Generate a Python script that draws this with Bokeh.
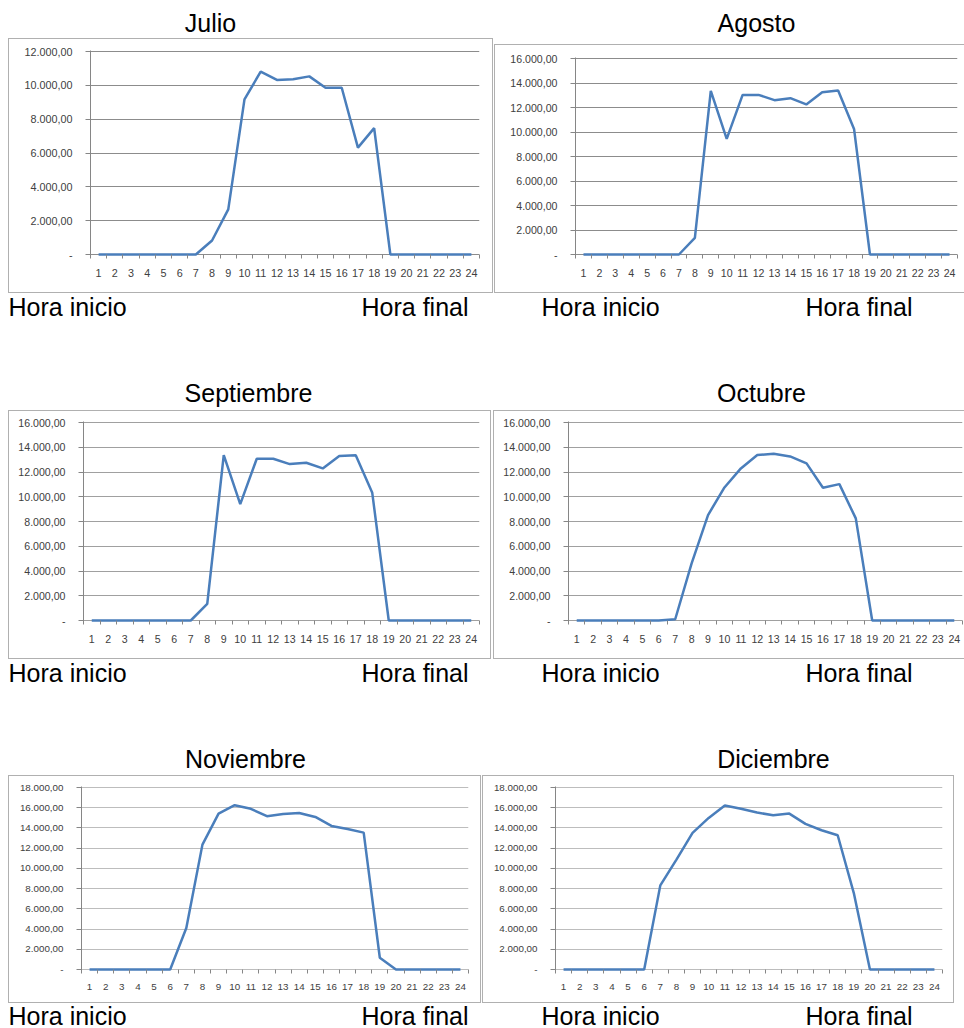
from bokeh.plotting import figure
from bokeh.models import Range1d, FixedTicker, Label, Spacer
from bokeh.layouts import row, column
from bokeh.embed import file_html
from bokeh.resources import INLINE

# ---------------- data ----------------
hours = list(range(1, 25))
hour_bounds = [h - 0.5 for h in hours] + [24.5]

julio = [0, 0, 0, 0, 0, 0, 0, 830, 2670, 9170, 10810, 10320, 10360, 10530,
         9860, 9860, 6320, 7470, 0, 0, 0, 0, 0, 0]
agosto = [0, 0, 0, 0, 0, 0, 0, 1350, 13360, 9440, 13030, 13030, 12600, 12760,
          12250, 13250, 13380, 10250, 0, 0, 0, 0, 0, 0]
septiembre = [0, 0, 0, 0, 0, 0, 0, 1350, 13360, 9400, 13070, 13070, 12640, 12750,
              12290, 13290, 13360, 10320, 0, 0, 0, 0, 0, 0]
octubre = [0, 0, 0, 0, 0, 0, 100, 4610, 8520, 10750, 12290, 13370, 13480, 13260,
           12700, 10730, 11020, 8250, 0, 0, 0, 0, 0, 0]
noviembre = [0, 0, 0, 0, 0, 0, 4100, 12350, 15420, 16250, 15890, 15160, 15380, 15480,
             15090, 14200, 13900, 13540, 1160, 0, 0, 0, 0, 0]
diciembre = [0, 0, 0, 0, 0, 0, 8320, 10870, 13510, 14990, 16220, 15890, 15520, 15260,
             15420, 14400, 13770, 13280, 7560, 0, 0, 0, 0, 0]

y_ticks_12 = [0, 2000, 4000, 6000, 8000, 10000, 12000]
y_labels_12 = ["-", "2.000,00", "4.000,00", "6.000,00", "8.000,00", "10.000,00", "12.000,00"]
y_ticks_16 = [0, 2000, 4000, 6000, 8000, 10000, 12000, 14000, 16000]
y_labels_16 = ["-", "2.000,00", "4.000,00", "6.000,00", "8.000,00", "10.000,00",
               "12.000,00", "14.000,00", "16.000,00"]
y_ticks_18 = [0, 2000, 4000, 6000, 8000, 10000, 12000, 14000, 16000, 18000]
y_labels_18 = ["-", "2.000,00", "4.000,00", "6.000,00", "8.000,00", "10.000,00",
               "12.000,00", "14.000,00", "16.000,00", "18.000,00"]

start_label = "Hora inicio"
end_label = "Hora final"

# ---------------- styles ----------------
LINE_COLOR = "#4A7EBB"
AXIS_COLOR = "#868686"
BOX_COLOR = "#b0b0b0"
FONT = "Liberation Sans"


def text_strip(w, h, items):
    p = figure(width=w, height=h, x_range=Range1d(0, w), y_range=Range1d(h, 0),
               x_axis_location=None, y_axis_location=None,
               output_backend="svg", toolbar_location=None,
               min_border=0, min_border_left=0, min_border_right=0,
               min_border_top=0, min_border_bottom=0)
    p.frame_align = False
    p.outline_line_color = None
    p.background_fill_color = None
    p.border_fill_color = None
    p.grid.visible = False
    for txt, x, y, align in items:
        p.add_layout(Label(x=x, y=y, text=txt, text_align=align,
                           text_baseline="alphabetic", text_font=FONT,
                           text_font_size="25px", text_color="black"))
    return p


def chart(values, y_ticks, y_labels, W, H, mbl, mbr, frame_t, zero_y, right_border,
          grid_color, tick_size):
    # frame_t / zero_y: canvas rows of the top gridline and of the zero line
    ymax = y_ticks[-1]
    ext_b, ext_t = 3, 1
    per_px = ymax / (zero_y - frame_t)
    p = figure(width=W, height=H,
               x_range=Range1d(0.5, 24.5),
               y_range=Range1d(-ext_b * per_px, ymax + ext_t * per_px),
               output_backend="svg", toolbar_location=None,
               min_border_left=mbl, min_border_right=mbr,
               min_border_top=frame_t - ext_t, min_border_bottom=H - (zero_y + ext_b))
    p.frame_align = False
    p.background_fill_color = None
    p.border_fill_color = None
    p.outline_line_color = None
    if right_border:
        shadow = f"inset 1px 1px 0 {BOX_COLOR}, inset -1px -1px 0 {BOX_COLOR}"
    else:
        shadow = f"inset 1px 1px 0 {BOX_COLOR}, inset 0 -1px 0 {BOX_COLOR}"
    p.styles = {"box-shadow": shadow}

    p.xgrid.visible = False
    p.ygrid.ticker = FixedTicker(ticks=y_ticks)
    p.ygrid.grid_line_color = grid_color
    p.ygrid.grid_line_width = 1

    ya = p.yaxis[0]
    ya.ticker = FixedTicker(ticks=y_ticks)
    ya.major_label_overrides = {t: l for t, l in zip(y_ticks, y_labels)}
    ya.axis_line_color = AXIS_COLOR
    ya.major_tick_line_color = AXIS_COLOR
    ya.major_tick_out = 5
    ya.major_tick_in = 0
    ya.minor_tick_line_color = None
    ya.major_label_standoff = 13
    ya.major_label_text_font = FONT
    ya.major_label_text_font_size = tick_size
    ya.major_label_text_color = "#404040"

    xa = p.xaxis[0]
    xa.ticker = FixedTicker(ticks=hours, minor_ticks=hour_bounds)
    xa.axis_line_color = None
    xa.major_tick_line_color = None
    xa.major_tick_in = 0
    xa.major_tick_out = 0
    xa.minor_tick_line_color = AXIS_COLOR
    xa.minor_tick_in = ext_b
    xa.minor_tick_out = 1
    xa.major_label_standoff = 10
    xa.major_label_text_font = FONT
    xa.major_label_text_font_size = tick_size
    xa.major_label_text_color = "#404040"

    p.line(hours, values, line_color=LINE_COLOR, line_width=2.5)
    return p


def panel(title, values, y_ticks, y_labels, pw, title_h, cw, ch, hora_h,
          mbl, mbr, frame_t, zero_y, right_border, tx, ty, hix, hfx, hy,
          grid_color, tick_size):
    t = text_strip(pw, title_h, [(title, tx, ty, "center")])
    c = chart(values, y_ticks, y_labels, cw, ch, mbl, mbr, frame_t, zero_y,
              right_border, grid_color, tick_size)
    h = text_strip(pw, hora_h, [(start_label, hix, hy, "left"),
                                (end_label, hfx, hy, "right")])
    return column(t, c, h)


p1 = panel("Julio", julio, y_ticks_12, y_labels_12, 486, 38, 485, 255, 82,
           82, 14, 13, 216, True, 202, 22, 0, 460, 13, "#8c8c8c", "10.8px")
p2 = panel("Agosto", agosto, y_ticks_16, y_labels_16, 470, 44, 470, 249, 82,
           81, 7, 14, 210, False, 262, 22, 47, 418, 13, "#8c8c8c", "10.6px")
p3 = panel("Septiembre", septiembre, y_ticks_16, y_labels_16, 485, 35, 483, 249, 81,
           75, 12, 12, 210, True, 240, 17, 0, 460, 13, "#a0a0a0", "10.6px")
p4 = panel("Octubre", octubre, y_ticks_16, y_labels_16, 471, 35, 471, 249, 81,
           75, 2, 12, 210, False, 268, 17, 48, 419, 13, "#a0a0a0", "10.6px")
p5 = panel("Noviembre", noviembre, y_ticks_18, y_labels_18, 474, 35, 473, 228, 25,
           73, 13, 12, 194, True, 237, 18, 0, 460, 12, "#bdbdbd", "9.8px")
p6 = panel("Diciembre", diciembre, y_ticks_18, y_labels_18, 482, 35, 472, 228, 25,
           73, 12, 12, 194, True, 291, 18, 59, 430, 12, "#bdbdbd", "9.8px")

layout = row(Spacer(width=8, height=1),
             column(row(p1, p2), row(p3, p4), row(p5, p6)))

open("out.html", "w").write(file_html(layout, INLINE))
